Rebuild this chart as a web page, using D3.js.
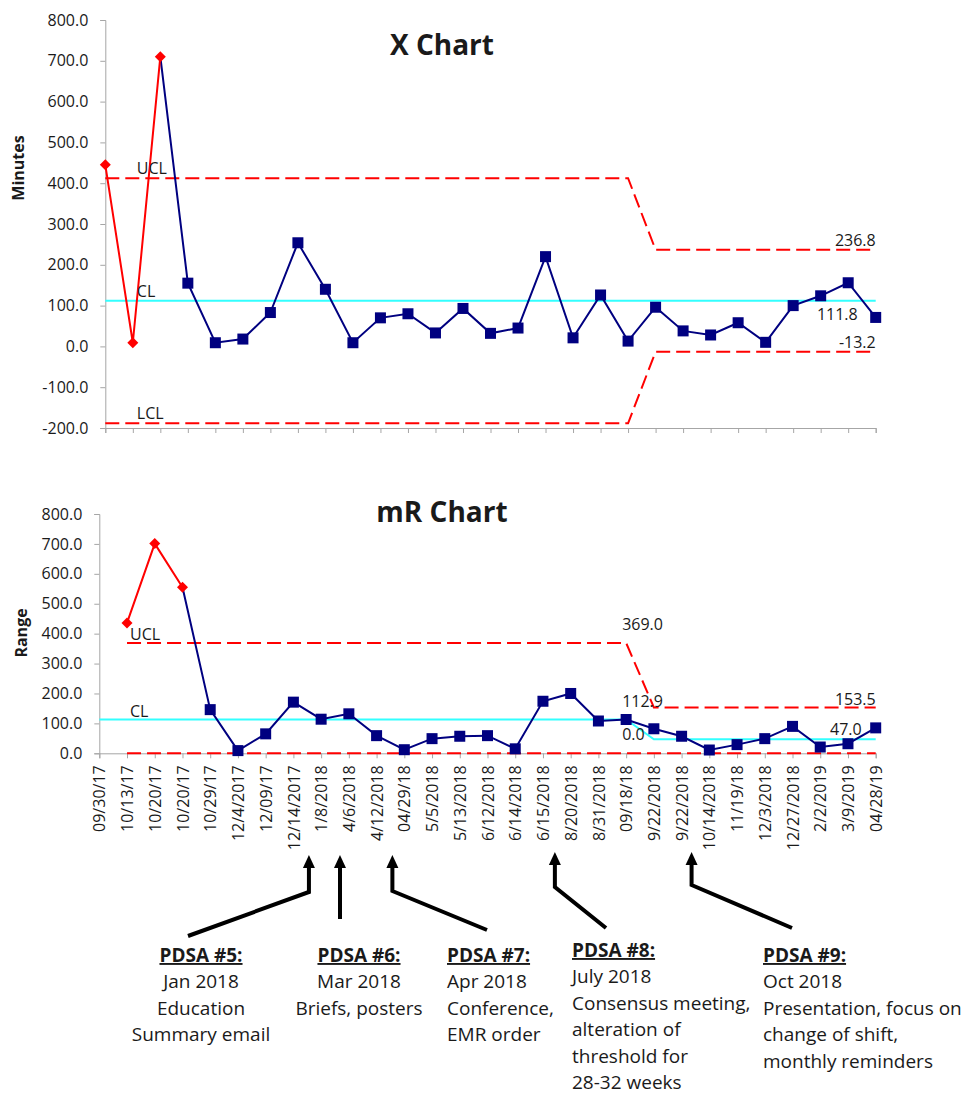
<!DOCTYPE html>
<meta charset="utf-8">
<style>
    body {
        margin: 0;
        padding: 0;
        background: #fff;
    }
    text {
        font-family: "Open Sans", "Noto Sans", sans-serif;
        fill: #1a1a1a;
    }
    .axis path, .axis line {
        stroke: #a6a6a6;
    }
    .axis text {
        font-size: 16px;
    }
    .title {
        font-size: 28px;
        font-weight: 700;
        text-anchor: middle;
    }
    .ytitle {
        font-size: 16px;
        font-weight: 700;
        text-anchor: middle;
    }
    .lim {
        font-size: 16px;
    }
    .note {
        font-size: 19px;
    }
</style>
<body>
<script src="https://d3js.org/d3.v7.min.js"></script>
<script>
    // sample dates (x axis categories)
    var dates = ["09/30/17", "10/13/17", "10/20/17", "10/20/17", "10/29/17", "12/4/2017", "12/09/17",
        "12/14/2017", "1/8/2018", "4/6/2018", "4/12/2018", "04/29/18", "5/5/2018", "5/13/2018",
        "6/12/2018", "6/14/2018", "6/15/2018", "8/20/2018", "8/31/2018", "09/18/18", "9/22/2018",
        "9/22/2018", "10/14/2018", "11/19/18", "12/3/2018", "12/27/2018", "2/2/2019", "3/9/2019", "04/28/19"];

    // individual values (minutes)
    var xValues = [445, 9, 710, 155, 9, 18, 83, 254, 140, 9, 70, 80, 33, 93, 32, 45, 220, 21, 126, 13,
        96, 38, 28, 58, 10, 100, 124, 156, 71];

    // moving ranges (first point has none)
    var mrValues = [null, 436, 701, 555, 146, 9, 65, 171, 114, 132, 59, 12, 49, 57, 59, 15, 174, 200,
        108, 113, 82, 57, 11, 29, 49, 90, 21, 32, 85];

    // points flagged as special cause (red)
    var xSignals = [0, 1, 2];
    var mrSignals = [1, 2, 3];

    // control limits, one value per phase; phase 2 starts at index 20
    var phaseStart = [0, 20];
    var xUCL = [412.1, 236.8], xCL = [111.8, 111.8], xLCL = [-188.5, -13.2];
    var mrUCL = [369.0, 153.5], mrCL = [112.9, 47.0], mrLCL = [0.0, 0.0];

    var yTicks = [-200, -100, 0, 100, 200, 300, 400, 500, 600, 700, 800];
    var mrTicks = [0, 100, 200, 300, 400, 500, 600, 700, 800];

    var notes = [
        {head: "PDSA #5:", lines: ["Jan 2018", "Education", "Summary email"]},
        {head: "PDSA #6:", lines: ["Mar 2018", "Briefs, posters"]},
        {head: "PDSA #7:", lines: ["Apr 2018", "Conference,", "EMR order"]},
        {head: "PDSA #8:", lines: ["July 2018", "Consensus meeting,", "alteration of", "threshold for", "28-32 weeks"]},
        {head: "PDSA #9:", lines: ["Oct 2018", "Presentation, focus on", "change of shift,", "monthly reminders"]}
    ];
    // where each note sits: arrow tip (fractional sample index), elbow/foot, text position
    var noteLayout = [
        {at: 7.56, elbow: 892, foot: [188, 936], tx: 201, ty: 962, anchor: "middle"},
        {at: 8.68, elbow: null, foot: [340, 919], tx: 359, ty: 962, anchor: "middle"},
        {at: 10.57, elbow: 891, foot: [487, 930], tx: 447, ty: 962, anchor: "start"},
        {at: 16.43, elbow: 887, foot: [606, 928], tx: 572, ty: 957, anchor: "start"},
        {at: 21.36, elbow: 885, foot: [792, 928], tx: 763, ty: 962, anchor: "start"}
    ];

    var width = 968, height = 1094;

    var fmt = d3.formatLocale({decimal: ".", thousands: ",", grouping: [3], currency: ["$", ""], minus: "-"})
        .format(".1f");

    var svg = d3.select("body")
        .append("svg")
        .attr("width", width)
        .attr("height", height);

    var idx = d3.range(dates.length);

    function phaseOf(i) {
        return i >= phaseStart[1] ? 1 : 0;
    }

    function diamond(s) {
        return "M0," + (-s) + "L" + s + ",0L0," + s + "L" + (-s) + ",0Z";
    }

    function drawChart(opt) {
        var g = svg.append("g");
        var x = d3.scaleLinear().domain([0, dates.length - 1]).range(opt.xr);
        var y = d3.scaleLinear().domain(opt.yd).range(opt.yr);

        g.append("g")
            .attr("class", "axis")
            .attr("transform", "translate(" + opt.xr[0] + ",0)")
            .call(d3.axisLeft(y).tickValues(opt.ticks).tickFormat(fmt).tickSize(5).tickPadding(12))
            .selectAll("text").style("fill", "#1a1a1a");

        var xa = g.append("g")
            .attr("class", "axis")
            .attr("transform", "translate(0," + opt.yr[0] + ")")
            .call(d3.axisBottom(x).tickValues(idx).tickSize(5)
                .tickFormat(opt.labels ? function(i) { return dates[i]; } : ""));
        if (opt.labels) {
            xa.selectAll("text")
                .attr("transform", "rotate(-90)")
                .attr("text-anchor", "end")
                .attr("x", -12)
                .attr("y", 0)
                .attr("dy", "0.35em")
                .style("fill", "#1a1a1a");
        }

        var first = opt.first;
        var lim = function(arr) {
            return idx.filter(function(i) { return i >= first; })
                .map(function(i) { return [i, arr[phaseOf(i)]]; });
        };
        var line = d3.line()
            .x(function(d) { return x(d[0]); })
            .y(function(d) { return y(d[1]); });

        // center line
        g.append("path")
            .datum(idx.map(function(i) { return [i, opt.cl[phaseOf(i)]]; }))
            .attr("d", line)
            .attr("fill", "none")
            .attr("stroke", "#33ffff")
            .attr("stroke-width", 2);

        // limits
        [opt.ucl, opt.lcl].forEach(function(arr) {
            g.append("path")
                .datum(lim(arr))
                .attr("d", line)
                .attr("fill", "none")
                .attr("stroke", "#ff0000")
                .attr("stroke-width", 2)
                .attr("stroke-dasharray", "14,6");
        });

        var pts = idx.filter(function(i) { return opt.vals[i] != null; })
            .map(function(i) { return [i, opt.vals[i]]; });
        var lastSig = d3.max(opt.signals);

        g.append("path")
            .datum(pts.filter(function(d) { return d[0] >= lastSig; }))
            .attr("d", line)
            .attr("fill", "none")
            .attr("stroke", "#000080")
            .attr("stroke-width", 2);

        g.append("path")
            .datum(pts.filter(function(d) { return opt.signals.indexOf(d[0]) >= 0; }))
            .attr("d", line)
            .attr("fill", "none")
            .attr("stroke", "#ff0000")
            .attr("stroke-width", 2);

        g.selectAll("rect.pt")
            .data(pts.filter(function(d) { return d[0] > lastSig; }))
            .enter().append("rect")
            .attr("class", "pt")
            .attr("x", function(d) { return x(d[0]) - 5.5; })
            .attr("y", function(d) { return y(d[1]) - 5.5; })
            .attr("width", 11)
            .attr("height", 11)
            .attr("fill", "#000080");

        g.selectAll("path.sig")
            .data(pts.filter(function(d) { return opt.signals.indexOf(d[0]) >= 0; }))
            .enter().append("path")
            .attr("class", "sig")
            .attr("d", diamond(5.5))
            .attr("transform", function(d) { return "translate(" + x(d[0]) + "," + y(d[1]) + ")"; })
            .attr("fill", "#ff0000");

        g.append("text")
            .attr("class", "title")
            .attr("x", 442)
            .attr("y", opt.titleY)
            .text(opt.title);

        g.append("text")
            .attr("class", "ytitle")
            .attr("transform", "translate(" + opt.ytPos[0] + "," + opt.ytPos[1] + ") rotate(-90)")
            .text(opt.ytitle);

        opt.limLabels.forEach(function(l) {
            g.append("text")
                .attr("class", "lim")
                .attr("x", x(l.i) + (l.dx || 0))
                .attr("y", y(l.v) + l.dy)
                .attr("text-anchor", l.anchor || "start")
                .text(l.t);
        });

        return {x: x, y: y};
    }

    drawChart({
        xr: [105.3, 875.7], yd: [-200, 800], yr: [428, 20], ticks: yTicks,
        labels: false, first: 0, vals: xValues, signals: xSignals,
        ucl: xUCL, cl: xCL, lcl: xLCL,
        title: "X Chart", titleY: 55, ytitle: "Minutes", ytPos: [24, 168],
        limLabels: [
            {i: 1, dx: 4, v: xUCL[0], dy: -4, t: "UCL"},
            {i: 1, dx: 4, v: xCL[0], dy: -4, t: "CL"},
            {i: 1, dx: 4, v: xLCL[0], dy: -4, t: "LCL"},
            {i: 28, v: xUCL[1], dy: -4, anchor: "end", t: fmt(xUCL[1])},
            {i: 28, dx: -18, v: xCL[1], dy: 19, anchor: "end", t: fmt(xCL[1])},
            {i: 28, v: xLCL[1], dy: -4, anchor: "end", t: fmt(xLCL[1])}
        ]
    });

    var bot = drawChart({
        xr: [99.3, 875.7], yd: [0, 800], yr: [753.3, 514], ticks: mrTicks,
        labels: true, first: 1, vals: mrValues, signals: mrSignals,
        ucl: mrUCL, cl: mrCL, lcl: mrLCL,
        title: "mR Chart", titleY: 522, ytitle: "Range", ytPos: [27, 633],
        limLabels: [
            {i: 1, dx: 3, v: mrUCL[0], dy: -3, t: "UCL"},
            {i: 1, dx: 3, v: mrCL[0], dy: -3, t: "CL"},
            {i: 19, dx: -4, v: mrUCL[0], dy: -13, t: fmt(mrUCL[0])},
            {i: 19, dx: -4, v: mrCL[0], dy: -13, t: fmt(mrCL[0])},
            {i: 19, dx: -4, v: mrLCL[0], dy: -13, t: fmt(mrLCL[0])},
            {i: 28, v: mrUCL[1], dy: -2, anchor: "end", t: fmt(mrUCL[1])},
            {i: 28, dx: -14, v: mrCL[1], dy: -4, anchor: "end", t: fmt(mrCL[1])}
        ]
    });

    // PDSA annotations
    var ann = svg.append("g");
    noteLayout.forEach(function(l, k) {
        var tx = bot.x(l.at);
        var tip = k < 3 ? 855 : 852;
        var pts = [[tx, tip + 10]];
        if (l.elbow) pts.push([tx, l.elbow]);
        pts.push(l.foot);
        ann.append("path")
            .attr("d", d3.line()(pts))
            .attr("fill", "none")
            .attr("stroke", "#000")
            .attr("stroke-width", 4)
            .attr("stroke-linejoin", "miter");
        ann.append("path")
            .attr("d", "M" + tx + "," + tip + "L" + (tx + 6) + "," + (tip + 13) + "L" + (tx - 6) + "," + (tip + 13) + "Z")
            .attr("fill", "#000");

        var t = ann.append("text")
            .attr("class", "note")
            .attr("x", l.tx)
            .attr("y", l.ty)
            .attr("text-anchor", l.anchor);
        t.append("tspan")
            .attr("x", l.tx)
            .style("font-weight", 700)
            .style("text-decoration", "underline")
            .text(notes[k].head);
        notes[k].lines.forEach(function(s) {
            t.append("tspan")
                .attr("x", l.tx)
                .attr("dy", 26.4)
                .text(s);
        });
    });
</script>
</body>
</html>
